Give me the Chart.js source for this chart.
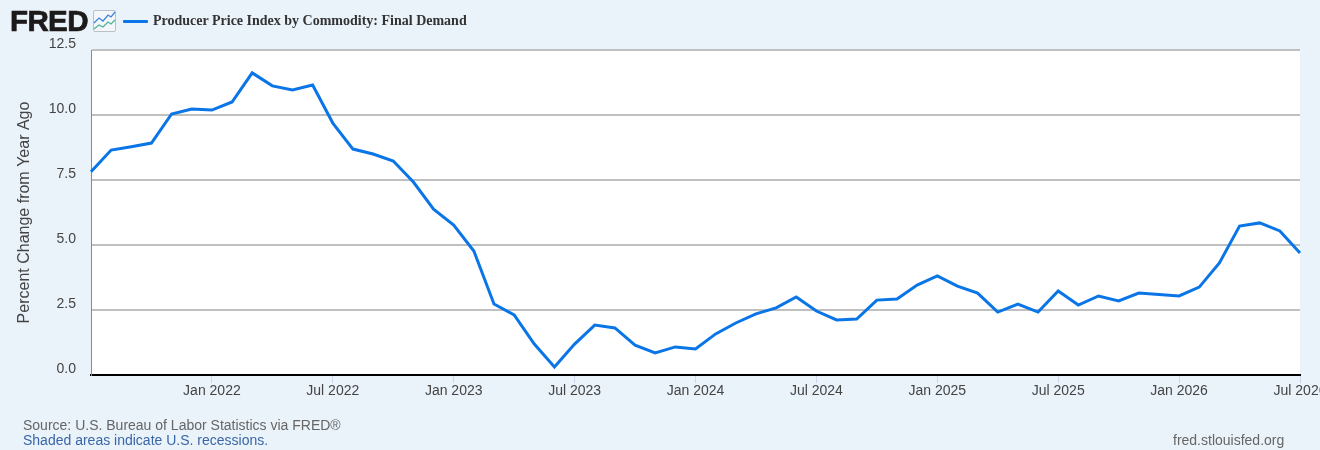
<!DOCTYPE html>
<html>
<head>
<meta charset="utf-8">
<title>Producer Price Index by Commodity: Final Demand</title>
<script src="https://cdn.jsdelivr.net/npm/chart.js@4"></script>
<style>
  html, body { margin: 0; padding: 0; width: 1320px; height: 450px; overflow: hidden; background: #eaf2fa; }
  body { position: relative; font-family: "Liberation Sans", Arial, sans-serif; }
  canvas { position: absolute; left: 0; top: 0; }
  .abs { position: absolute; white-space: nowrap; }
  #logo { left: 10px; top: 4px; font-size: 29.5px; line-height: 34px; font-weight: 700; color: #1c1a1a; letter-spacing: -0.6px; -webkit-text-stroke: 0.7px #1c1a1a; }
  #icon { left: 93px; top: 10px; }
  #swatch { left: 123px; top: 20px; width: 25px; height: 3px; background: #0a75e6; border-radius: 1px; }
  #legend { left: 153px; top: 13px; font: bold 14px/16px "Liberation Serif", serif; color: #333; }
  .foot { font-size: 14px; line-height: 16px; color: #666; }
  #source { left: 23px; top: 417px; }
  #note { left: 23px; top: 432px; color: #3a66a7; }
  #site { left: 1173px; top: 432px; }
</style>
</head>
<body>
<canvas id="myChart" width="1320" height="450"></canvas>
<div class="abs" id="logo">FRED</div>
<svg class="abs" id="icon" width="23" height="22" viewBox="0 0 23 22">
  <rect x="0.5" y="0.5" width="22" height="21" rx="1.5" fill="#f4f7fa" stroke="#b9c0c8"/>
  <polyline points="1,13 6,8 10,11 15,5 18,7 22,2" fill="none" stroke="#3a86d8" stroke-width="1.3"/>
  <polyline points="1,19 6,15 10,17 15,12 18,14 22,10" fill="none" stroke="#4fb39a" stroke-width="1.3"/>
</svg>
<div class="abs" id="swatch"></div>
<div class="abs" id="legend">Producer Price Index by Commodity: Final Demand</div>
<div class="abs foot" id="source">Source: U.S. Bureau of Labor Statistics via FRED®</div>
<div class="abs foot" id="note">Shaded areas indicate U.S. recessions.</div>
<div class="abs foot" id="site">fred.stlouisfed.org</div>

<script>
// Monthly dates, Jul 2021 to Jul 2026
const months = [
    'Jul 2021', 'Aug 2021', 'Sep 2021', 'Oct 2021', 'Nov 2021', 'Dec 2021',
    'Jan 2022', 'Feb 2022', 'Mar 2022', 'Apr 2022', 'May 2022', 'Jun 2022',
    'Jul 2022', 'Aug 2022', 'Sep 2022', 'Oct 2022', 'Nov 2022', 'Dec 2022',
    'Jan 2023', 'Feb 2023', 'Mar 2023', 'Apr 2023', 'May 2023', 'Jun 2023',
    'Jul 2023', 'Aug 2023', 'Sep 2023', 'Oct 2023', 'Nov 2023', 'Dec 2023',
    'Jan 2024', 'Feb 2024', 'Mar 2024', 'Apr 2024', 'May 2024', 'Jun 2024',
    'Jul 2024', 'Aug 2024', 'Sep 2024', 'Oct 2024', 'Nov 2024', 'Dec 2024',
    'Jan 2025', 'Feb 2025', 'Mar 2025', 'Apr 2025', 'May 2025', 'Jun 2025',
    'Jul 2025', 'Aug 2025', 'Sep 2025', 'Oct 2025', 'Nov 2025', 'Dec 2025',
    'Jan 2026', 'Feb 2026', 'Mar 2026', 'Apr 2026', 'May 2026', 'Jun 2026',
    'Jul 2026'
];

// Percent change from year ago
const ppiChange = [
    7.82, 8.65, 8.78, 8.92, 10.04, 10.23,
    10.19, 10.50, 11.62, 11.12, 10.96, 11.15,
    9.69, 8.69, 8.50, 8.23, 7.42, 6.38,
    5.77, 4.77, 2.73, 2.31, 1.19, 0.31,
    1.19, 1.92, 1.81, 1.15, 0.85, 1.08,
    1.00, 1.58, 2.00, 2.35, 2.58, 3.00,
    2.46, 2.12, 2.15, 2.88, 2.92, 3.46,
    3.81, 3.42, 3.15, 2.42, 2.73, 2.42,
    3.23, 2.69, 3.04, 2.85, 3.15, 3.10,
    3.04, 3.38, 4.31, 5.73, 5.85, 5.54,
    4.69
];

// Only these dates get a label and a tick mark
const xTickLabels = [
    'Jan 2022', 'Jul 2022', 'Jan 2023', 'Jul 2023', 'Jan 2024',
    'Jul 2024', 'Jan 2025', 'Jul 2025', 'Jan 2026', 'Jul 2026'
];

const fontFamily = '"Liberation Sans", Arial, sans-serif';

// White plot background
const plotBackground = {
    id: 'plotBackground',
    beforeDraw(chart) {
        const { ctx, chartArea: a } = chart;
        ctx.save();
        ctx.fillStyle = '#ffffff';
        ctx.fillRect(a.left, a.top, a.right - a.left, a.bottom - a.top);
        ctx.restore();
    }
};

const ctx = document.getElementById('myChart').getContext('2d');
const myChart = new Chart(ctx, {
    type: 'line',
    plugins: [plotBackground],
    data: {
        labels: months,
        datasets: [{
            label: 'Producer Price Index by Commodity: Final Demand',
            data: ppiChange,
            borderColor: '#0a75e6',
            borderWidth: 3,
            borderJoinStyle: 'miter',
            pointRadius: 0,
            tension: 0
        }]
    },
    options: {
        responsive: false,
        animation: false,
        devicePixelRatio: 1,
        layout: { padding: { top: 50, right: 20, bottom: 0, left: 0 } },
        plugins: { legend: { display: false }, tooltip: { enabled: false } },
        scales: {
            x: {
                type: 'category',
                offset: false,
                afterBuildTicks(scale) {
                    scale.ticks = scale.ticks.filter(t => xTickLabels.includes(months[t.value]));
                },
                afterFit(scale) {
                    // let the last label run off the page instead of shrinking the plot
                    scale.height = 75;
                    scale.paddingLeft = 0;
                    scale.paddingRight = 0;
                },
                grid: { drawOnChartArea: false, drawTicks: true, tickLength: 8, tickColor: '#ccd6eb', tickWidth: 1 },
                border: { color: '#000000', width: 2 },
                ticks: {
                    autoSkip: false,
                    maxRotation: 0,
                    padding: 0,
                    color: '#444444',
                    font: { family: fontFamily, size: 14 }
                }
            },
            y: {
                min: 0,
                max: 12.5,
                afterFit(scale) {
                    scale.width = 91;
                },
                grid: { color: '#c0c0c0', lineWidth: 2, drawTicks: false },
                border: { color: '#8a8a8a', width: 1 },
                ticks: {
                    stepSize: 2.5,
                    padding: 15,
                    labelOffset: -6,
                    color: '#444444',
                    font: { family: fontFamily, size: 14 },
                    callback: v => v.toFixed(1)
                },
                title: {
                    display: true,
                    text: 'Percent Change from Year Ago',
                    color: '#444444',
                    padding: { top: 15, bottom: 0 },
                    font: { family: fontFamily, size: 16 }
                }
            }
        }
    }
});
</script>
</body>
</html>
